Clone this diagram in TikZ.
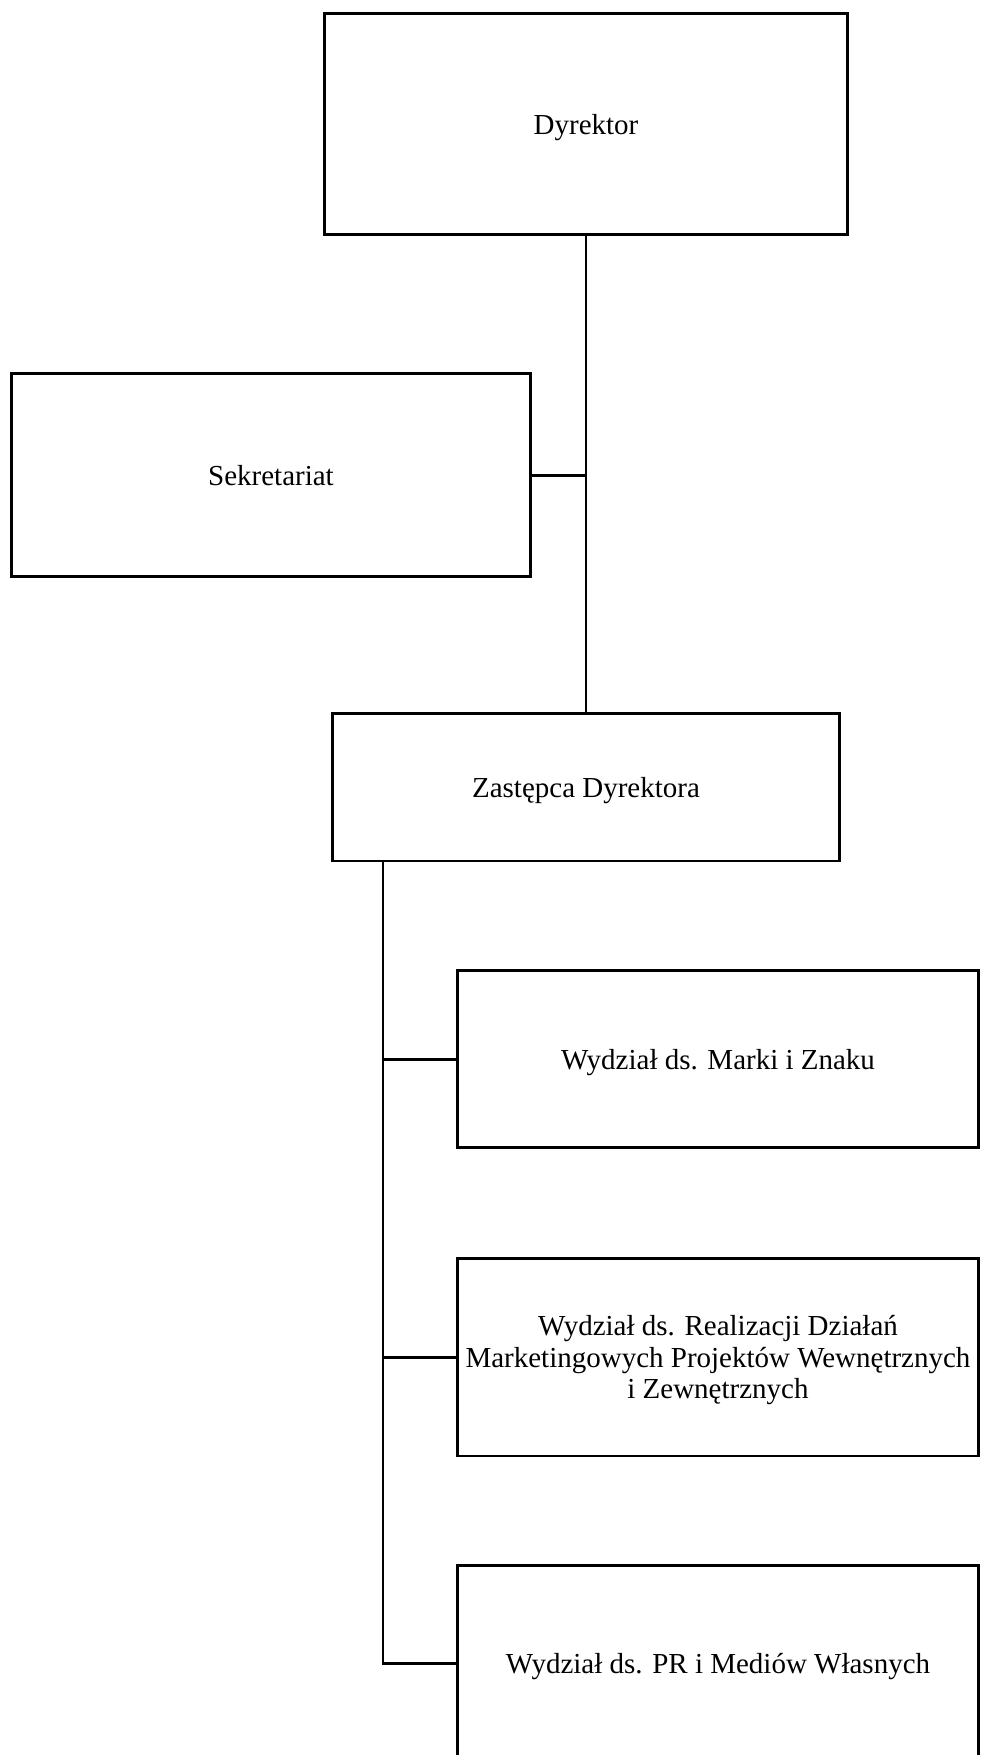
\documentclass[tikz,border=0pt]{standalone}
\usepackage{fontspec}
\setmainfont{Liberation Serif}

\tikzstyle{unit}=[rectangle, draw, line width=1.7pt, align=center, inner sep=0pt, text depth=0pt, font=\fontsize{16.5}{18}\selectfont]
\tikzstyle{link}=[line width=1.7pt]

\begin{document}
\begin{tikzpicture}[x=0.02cm, y=-0.02cm]
            \useasboundingbox (0,0) rectangle (981,1755);
            \node[unit, minimum width=523cm/50, minimum height=222cm/50] at (586,124) (dyr) {Dyrektor};
            \node[unit, minimum width=520cm/50, minimum height=203cm/50] at (271,475) (sek) {Sekretariat};
            \node[unit, minimum width=508cm/50, minimum height=148cm/50] at (586,787) (zast) {Zastępca Dyrektora};
            \node[unit, minimum width=521cm/50, minimum height=177cm/50] at (718,1059) (marki) {Wydział ds. Marki i Znaku};
            \node[unit, minimum width=521cm/50, minimum height=198cm/50] at (718,1357) (real) {Wydział ds. Realizacji Działań\\Marketingowych Projektów Wewnętrznych\\i Zewnętrznych};
            \node[unit, minimum width=521cm/50, minimum height=195cm/50] at (718,1663) (pr) {Wydział ds. PR i Mediów Własnych};
            \coordinate (zs) at (383,861);
            \draw[link] (dyr.south) -- (zast.north);
            \draw[link] (sek.east) -- (sek.east -| dyr.south);
            \draw[link] (zs) |- (pr.west);
            \draw[link] (marki.west) -- (marki.west -| zs);
            \draw[link] (real.west) -- (real.west -| zs);
        \end{tikzpicture}
\end{document}
